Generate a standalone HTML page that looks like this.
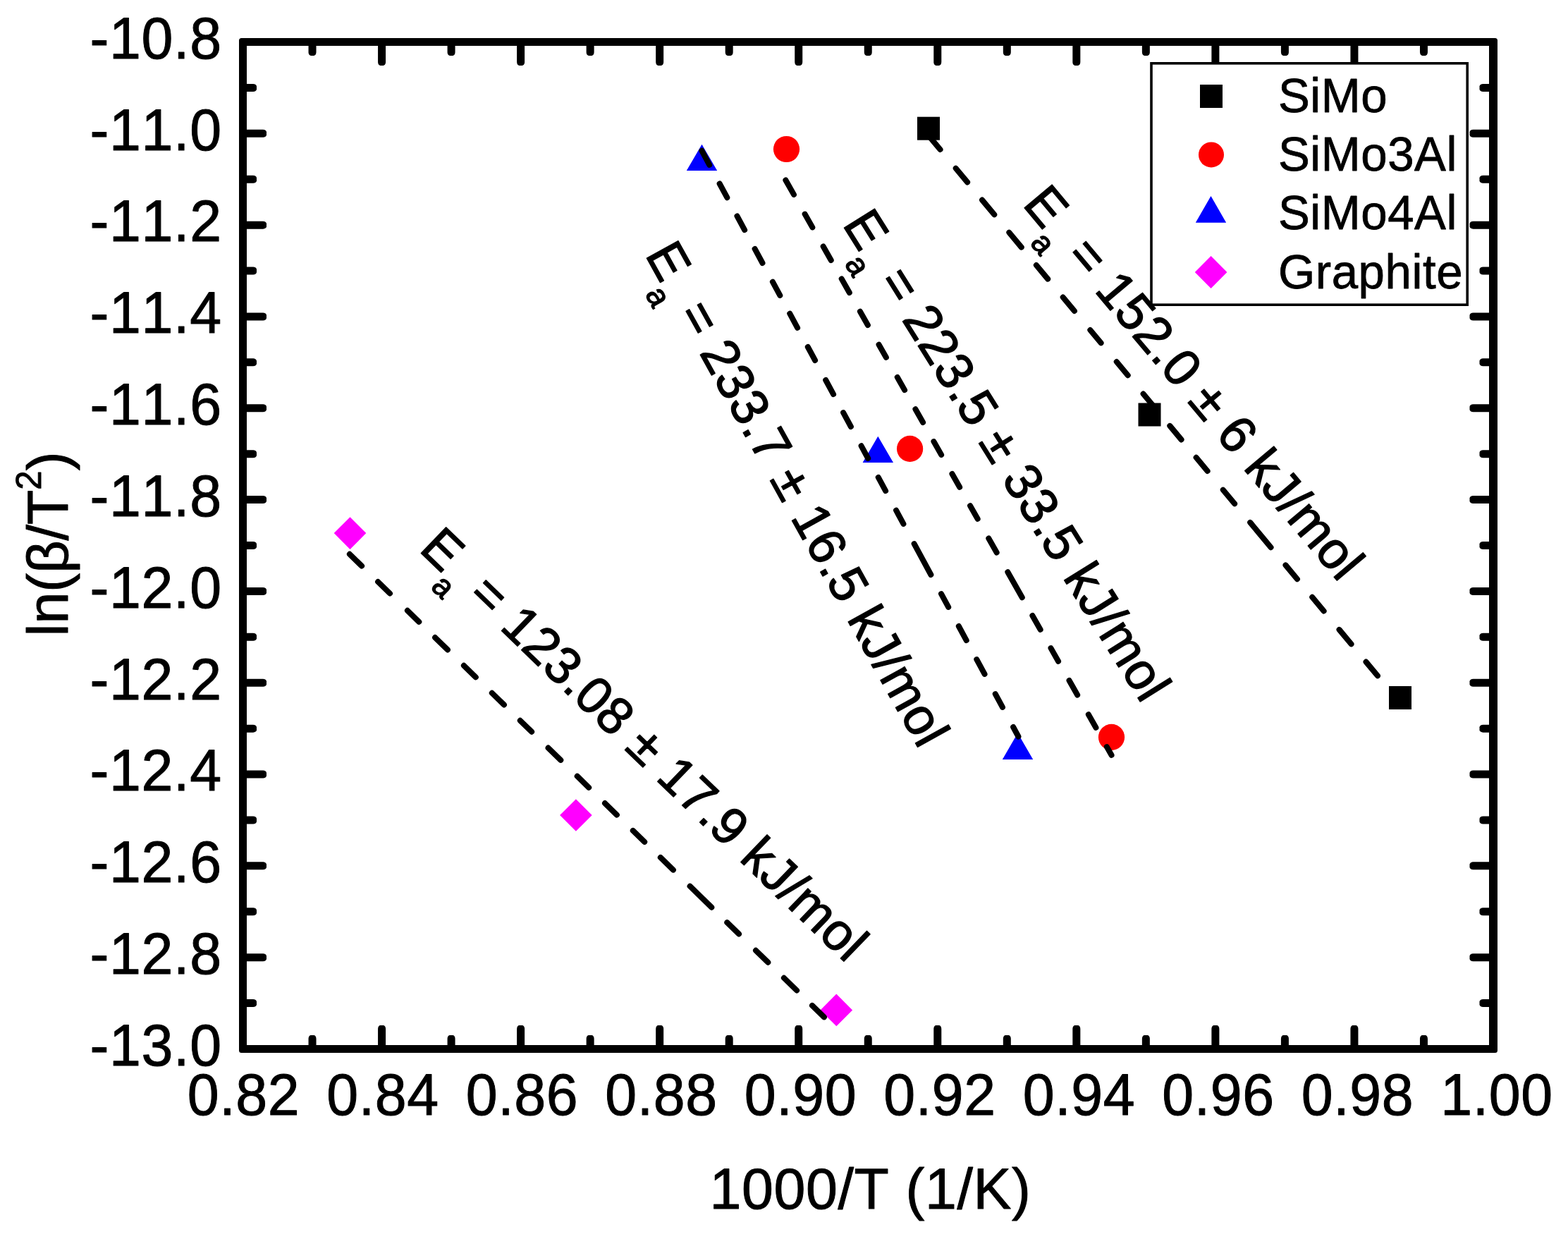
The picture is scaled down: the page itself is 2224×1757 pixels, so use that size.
<!DOCTYPE html>
<html lang="en"><head><meta charset="utf-8"><title>Kissinger plot: ln(β/T²) vs 1000/T</title>
<style>html,body{margin:0;padding:0;background:#fff;}body{width:2224px;height:1757px;overflow:hidden;}svg{display:block;}text{font-family:'Liberation Sans', sans-serif;fill:#000;font-kerning:none;font-variant-ligatures:none;white-space:pre;}</style>
</head><body>
<svg width="2224" height="1757" viewBox="0 0 2224 1757" role="img" aria-label="Kissinger plot of ln(β/T²) versus 1000/T">
<rect x="0" y="0" width="2224" height="1757" fill="#fff"/>
<g fill="#000">
<rect x="339.00" y="1454.00" width="11" height="33.50" rx="3.5" ry="5"/>
<rect x="339.00" y="59.50" width="11" height="33.50" rx="3.5" ry="5"/>
<rect x="437.53" y="1468.00" width="11" height="19.50" rx="3.5" ry="5"/>
<rect x="437.53" y="59.50" width="11" height="19.50" rx="3.5" ry="5"/>
<rect x="536.06" y="1454.00" width="11" height="33.50" rx="3.5" ry="5"/>
<rect x="536.06" y="59.50" width="11" height="33.50" rx="3.5" ry="5"/>
<rect x="634.58" y="1468.00" width="11" height="19.50" rx="3.5" ry="5"/>
<rect x="634.58" y="59.50" width="11" height="19.50" rx="3.5" ry="5"/>
<rect x="733.11" y="1454.00" width="11" height="33.50" rx="3.5" ry="5"/>
<rect x="733.11" y="59.50" width="11" height="33.50" rx="3.5" ry="5"/>
<rect x="831.64" y="1468.00" width="11" height="19.50" rx="3.5" ry="5"/>
<rect x="831.64" y="59.50" width="11" height="19.50" rx="3.5" ry="5"/>
<rect x="930.17" y="1454.00" width="11" height="33.50" rx="3.5" ry="5"/>
<rect x="930.17" y="59.50" width="11" height="33.50" rx="3.5" ry="5"/>
<rect x="1028.69" y="1468.00" width="11" height="19.50" rx="3.5" ry="5"/>
<rect x="1028.69" y="59.50" width="11" height="19.50" rx="3.5" ry="5"/>
<rect x="1127.22" y="1454.00" width="11" height="33.50" rx="3.5" ry="5"/>
<rect x="1127.22" y="59.50" width="11" height="33.50" rx="3.5" ry="5"/>
<rect x="1225.75" y="1468.00" width="11" height="19.50" rx="3.5" ry="5"/>
<rect x="1225.75" y="59.50" width="11" height="19.50" rx="3.5" ry="5"/>
<rect x="1324.28" y="1454.00" width="11" height="33.50" rx="3.5" ry="5"/>
<rect x="1324.28" y="59.50" width="11" height="33.50" rx="3.5" ry="5"/>
<rect x="1422.81" y="1468.00" width="11" height="19.50" rx="3.5" ry="5"/>
<rect x="1422.81" y="59.50" width="11" height="19.50" rx="3.5" ry="5"/>
<rect x="1521.33" y="1454.00" width="11" height="33.50" rx="3.5" ry="5"/>
<rect x="1521.33" y="59.50" width="11" height="33.50" rx="3.5" ry="5"/>
<rect x="1619.86" y="1468.00" width="11" height="19.50" rx="3.5" ry="5"/>
<rect x="1619.86" y="59.50" width="11" height="19.50" rx="3.5" ry="5"/>
<rect x="1718.39" y="1454.00" width="11" height="33.50" rx="3.5" ry="5"/>
<rect x="1718.39" y="59.50" width="11" height="33.50" rx="3.5" ry="5"/>
<rect x="1816.92" y="1468.00" width="11" height="19.50" rx="3.5" ry="5"/>
<rect x="1816.92" y="59.50" width="11" height="19.50" rx="3.5" ry="5"/>
<rect x="1915.44" y="1454.00" width="11" height="33.50" rx="3.5" ry="5"/>
<rect x="1915.44" y="59.50" width="11" height="33.50" rx="3.5" ry="5"/>
<rect x="2013.97" y="1468.00" width="11" height="19.50" rx="3.5" ry="5"/>
<rect x="2013.97" y="59.50" width="11" height="19.50" rx="3.5" ry="5"/>
<rect x="2112.50" y="1454.00" width="11" height="33.50" rx="3.5" ry="5"/>
<rect x="2112.50" y="59.50" width="11" height="33.50" rx="3.5" ry="5"/>
<rect x="344.50" y="54.00" width="33.50" height="11" rx="5" ry="3.5"/>
<rect x="2084.50" y="54.00" width="33.50" height="11" rx="5" ry="3.5"/>
<rect x="344.50" y="118.91" width="19.50" height="11" rx="5" ry="3.5"/>
<rect x="2098.50" y="118.91" width="19.50" height="11" rx="5" ry="3.5"/>
<rect x="344.50" y="183.82" width="33.50" height="11" rx="5" ry="3.5"/>
<rect x="2084.50" y="183.82" width="33.50" height="11" rx="5" ry="3.5"/>
<rect x="344.50" y="248.73" width="19.50" height="11" rx="5" ry="3.5"/>
<rect x="2098.50" y="248.73" width="19.50" height="11" rx="5" ry="3.5"/>
<rect x="344.50" y="313.64" width="33.50" height="11" rx="5" ry="3.5"/>
<rect x="2084.50" y="313.64" width="33.50" height="11" rx="5" ry="3.5"/>
<rect x="344.50" y="378.55" width="19.50" height="11" rx="5" ry="3.5"/>
<rect x="2098.50" y="378.55" width="19.50" height="11" rx="5" ry="3.5"/>
<rect x="344.50" y="443.45" width="33.50" height="11" rx="5" ry="3.5"/>
<rect x="2084.50" y="443.45" width="33.50" height="11" rx="5" ry="3.5"/>
<rect x="344.50" y="508.36" width="19.50" height="11" rx="5" ry="3.5"/>
<rect x="2098.50" y="508.36" width="19.50" height="11" rx="5" ry="3.5"/>
<rect x="344.50" y="573.27" width="33.50" height="11" rx="5" ry="3.5"/>
<rect x="2084.50" y="573.27" width="33.50" height="11" rx="5" ry="3.5"/>
<rect x="344.50" y="638.18" width="19.50" height="11" rx="5" ry="3.5"/>
<rect x="2098.50" y="638.18" width="19.50" height="11" rx="5" ry="3.5"/>
<rect x="344.50" y="703.09" width="33.50" height="11" rx="5" ry="3.5"/>
<rect x="2084.50" y="703.09" width="33.50" height="11" rx="5" ry="3.5"/>
<rect x="344.50" y="768.00" width="19.50" height="11" rx="5" ry="3.5"/>
<rect x="2098.50" y="768.00" width="19.50" height="11" rx="5" ry="3.5"/>
<rect x="344.50" y="832.91" width="33.50" height="11" rx="5" ry="3.5"/>
<rect x="2084.50" y="832.91" width="33.50" height="11" rx="5" ry="3.5"/>
<rect x="344.50" y="897.82" width="19.50" height="11" rx="5" ry="3.5"/>
<rect x="2098.50" y="897.82" width="19.50" height="11" rx="5" ry="3.5"/>
<rect x="344.50" y="962.73" width="33.50" height="11" rx="5" ry="3.5"/>
<rect x="2084.50" y="962.73" width="33.50" height="11" rx="5" ry="3.5"/>
<rect x="344.50" y="1027.64" width="19.50" height="11" rx="5" ry="3.5"/>
<rect x="2098.50" y="1027.64" width="19.50" height="11" rx="5" ry="3.5"/>
<rect x="344.50" y="1092.55" width="33.50" height="11" rx="5" ry="3.5"/>
<rect x="2084.50" y="1092.55" width="33.50" height="11" rx="5" ry="3.5"/>
<rect x="344.50" y="1157.45" width="19.50" height="11" rx="5" ry="3.5"/>
<rect x="2098.50" y="1157.45" width="19.50" height="11" rx="5" ry="3.5"/>
<rect x="344.50" y="1222.36" width="33.50" height="11" rx="5" ry="3.5"/>
<rect x="2084.50" y="1222.36" width="33.50" height="11" rx="5" ry="3.5"/>
<rect x="344.50" y="1287.27" width="19.50" height="11" rx="5" ry="3.5"/>
<rect x="2098.50" y="1287.27" width="19.50" height="11" rx="5" ry="3.5"/>
<rect x="344.50" y="1352.18" width="33.50" height="11" rx="5" ry="3.5"/>
<rect x="2084.50" y="1352.18" width="33.50" height="11" rx="5" ry="3.5"/>
<rect x="344.50" y="1417.09" width="19.50" height="11" rx="5" ry="3.5"/>
<rect x="2098.50" y="1417.09" width="19.50" height="11" rx="5" ry="3.5"/>
<rect x="344.50" y="1482.00" width="33.50" height="11" rx="5" ry="3.5"/>
<rect x="2084.50" y="1482.00" width="33.50" height="11" rx="5" ry="3.5"/>
</g>
<path fill="#000" fill-rule="evenodd" d="M342.50 54.00H2120.50Q2124.00 54.00 2124.00 57.50V1489.50Q2124.00 1493.00 2120.50 1493.00H342.50Q339.00 1493.00 339.00 1489.50V57.50Q339.00 54.00 342.50 54.00Z M350.00 65.00H2112.00V1482.00H350.00Z"/>
<text transform="translate(314.62 82.80) scale(1 1.045)" font-size="80.7" text-anchor="end" stroke="#000" stroke-width="1" stroke-linejoin="round" letter-spacing="0.62">-10.8</text>
<text transform="translate(314.62 212.62) scale(1 1.045)" font-size="80.7" text-anchor="end" stroke="#000" stroke-width="1" stroke-linejoin="round" letter-spacing="0.62">-11.0</text>
<text transform="translate(314.62 342.44) scale(1 1.045)" font-size="80.7" text-anchor="end" stroke="#000" stroke-width="1" stroke-linejoin="round" letter-spacing="0.62">-11.2</text>
<text transform="translate(314.62 472.25) scale(1 1.045)" font-size="80.7" text-anchor="end" stroke="#000" stroke-width="1" stroke-linejoin="round" letter-spacing="0.62">-11.4</text>
<text transform="translate(314.62 602.07) scale(1 1.045)" font-size="80.7" text-anchor="end" stroke="#000" stroke-width="1" stroke-linejoin="round" letter-spacing="0.62">-11.6</text>
<text transform="translate(314.62 731.89) scale(1 1.045)" font-size="80.7" text-anchor="end" stroke="#000" stroke-width="1" stroke-linejoin="round" letter-spacing="0.62">-11.8</text>
<text transform="translate(314.62 861.71) scale(1 1.045)" font-size="80.7" text-anchor="end" stroke="#000" stroke-width="1" stroke-linejoin="round" letter-spacing="0.62">-12.0</text>
<text transform="translate(314.62 991.53) scale(1 1.045)" font-size="80.7" text-anchor="end" stroke="#000" stroke-width="1" stroke-linejoin="round" letter-spacing="0.62">-12.2</text>
<text transform="translate(314.62 1121.35) scale(1 1.045)" font-size="80.7" text-anchor="end" stroke="#000" stroke-width="1" stroke-linejoin="round" letter-spacing="0.62">-12.4</text>
<text transform="translate(314.62 1251.16) scale(1 1.045)" font-size="80.7" text-anchor="end" stroke="#000" stroke-width="1" stroke-linejoin="round" letter-spacing="0.62">-12.6</text>
<text transform="translate(314.62 1380.98) scale(1 1.045)" font-size="80.7" text-anchor="end" stroke="#000" stroke-width="1" stroke-linejoin="round" letter-spacing="0.62">-12.8</text>
<text transform="translate(314.62 1510.80) scale(1 1.045)" font-size="80.7" text-anchor="end" stroke="#000" stroke-width="1" stroke-linejoin="round" letter-spacing="0.62">-13.0</text>
<text transform="translate(345.50 1581.00) scale(1 1.045)" font-size="80.7" text-anchor="middle" stroke="#000" stroke-width="1" stroke-linejoin="round" letter-spacing="0.62">0.82</text>
<text transform="translate(543.00 1581.00) scale(1 1.045)" font-size="80.7" text-anchor="middle" stroke="#000" stroke-width="1" stroke-linejoin="round" letter-spacing="0.62">0.84</text>
<text transform="translate(740.50 1581.00) scale(1 1.045)" font-size="80.7" text-anchor="middle" stroke="#000" stroke-width="1" stroke-linejoin="round" letter-spacing="0.62">0.86</text>
<text transform="translate(938.00 1581.00) scale(1 1.045)" font-size="80.7" text-anchor="middle" stroke="#000" stroke-width="1" stroke-linejoin="round" letter-spacing="0.62">0.88</text>
<text transform="translate(1135.50 1581.00) scale(1 1.045)" font-size="80.7" text-anchor="middle" stroke="#000" stroke-width="1" stroke-linejoin="round" letter-spacing="0.62">0.90</text>
<text transform="translate(1333.00 1581.00) scale(1 1.045)" font-size="80.7" text-anchor="middle" stroke="#000" stroke-width="1" stroke-linejoin="round" letter-spacing="0.62">0.92</text>
<text transform="translate(1530.50 1581.00) scale(1 1.045)" font-size="80.7" text-anchor="middle" stroke="#000" stroke-width="1" stroke-linejoin="round" letter-spacing="0.62">0.94</text>
<text transform="translate(1728.00 1581.00) scale(1 1.045)" font-size="80.7" text-anchor="middle" stroke="#000" stroke-width="1" stroke-linejoin="round" letter-spacing="0.62">0.96</text>
<text transform="translate(1925.50 1581.00) scale(1 1.045)" font-size="80.7" text-anchor="middle" stroke="#000" stroke-width="1" stroke-linejoin="round" letter-spacing="0.62">0.98</text>
<text transform="translate(2123.00 1581.00) scale(1 1.045)" font-size="80.7" text-anchor="middle" stroke="#000" stroke-width="1" stroke-linejoin="round" letter-spacing="0.62">1.00</text>
<text transform="translate(1234.50 1713.60) scale(1 1.02)" font-size="80.7" text-anchor="middle" stroke="#000" stroke-width="1" stroke-linejoin="round" letter-spacing="0.62">1000/T (1/K)</text>
<text transform="translate(96.10 771.50) rotate(-90)" font-size="80.7" text-anchor="middle" stroke="#000" stroke-width="1" stroke-linejoin="round">ln(β/T<tspan font-size="49.2" dy="-38.4">2</tspan><tspan dy="38.4">)</tspan></text>
<rect x="1633" y="89.8" width="448.2" height="342.4" fill="#fff" stroke="#000" stroke-width="3.6"/>
<rect x="1702" y="120" width="32" height="33" fill="#000"/>
<circle cx="1718" cy="219.4" r="18" fill="#f00"/>
<path d="M1717.5 278L1739.2 315.8H1695.8Z" fill="#00f"/>
<path d="M1717.6 363L1740.4 386L1717.6 409L1694.8 386Z" fill="#f0f"/>
<text transform="translate(1812.90 158.50) scale(1 1.015)" font-size="67.2" stroke="#000" stroke-width="0.8" stroke-linejoin="round" letter-spacing="0.56">SiMo</text>
<text transform="translate(1812.90 242.20) scale(1 1.015)" font-size="67.2" stroke="#000" stroke-width="0.8" stroke-linejoin="round" letter-spacing="0.56">SiMo3Al</text>
<text transform="translate(1812.90 325.00) scale(1 1.015)" font-size="67.2" stroke="#000" stroke-width="0.8" stroke-linejoin="round" letter-spacing="0.56">SiMo4Al</text>
<text transform="translate(1812.90 408.60) scale(1 1.015)" font-size="67.2" stroke="#000" stroke-width="0.8" stroke-linejoin="round" letter-spacing="0.56">Graphite</text>
<rect x="1301.00" y="165.70" width="32" height="33" fill="#000"/>
<rect x="1614.50" y="571.50" width="32" height="33" fill="#000"/>
<rect x="1970.00" y="973.00" width="32" height="33" fill="#000"/>
<circle cx="1115.50" cy="211.50" r="18.6" fill="#f00"/>
<circle cx="1290.60" cy="636.40" r="18.6" fill="#f00"/>
<circle cx="1576.50" cy="1045.40" r="18.6" fill="#f00"/>
<path d="M995.50 204.70L1017.20 242.00H973.80Z" fill="#00f"/>
<path d="M1245.30 618.80L1267.00 656.10H1223.60Z" fill="#00f"/>
<path d="M1443.50 1039.60L1465.20 1076.90H1421.80Z" fill="#00f"/>
<path d="M496.50 733.30L519.30 756.10L496.50 778.90L473.70 756.10Z" fill="#f0f"/>
<path d="M816.90 1133.20L839.70 1156.00L816.90 1178.80L794.10 1156.00Z" fill="#f0f"/>
<path d="M1186.30 1409.60L1209.10 1432.40L1186.30 1455.20L1163.50 1432.40Z" fill="#f0f"/>
<g stroke="#000" stroke-width="8" stroke-linecap="round" fill="none">
<path d="M1317.39 192.60L1333.52 212.00M1355.72 238.70L1372.09 258.40M1393.04 283.60L1410.25 304.30M1431.36 329.70L1448.74 350.60M1469.85 376.00L1486.15 395.60M1507.68 421.50L1523.89 441.00M1546.33 468.00L1561.55 486.30M1583.74 513.00L1599.70 532.20M1621.57 558.50L1637.78 578.00M1659.31 603.90L1675.52 623.40M1696.63 648.80L1712.59 668.00M1734.79 694.70L1751.08 714.30M1773.19 740.90L1802.54 776.20M1823.49 801.40L1839.95 821.20M1861.23 846.80L1877.61 866.50M1899.55 892.90L1916.51 913.30M1937.54 938.60L1953.92 958.30M1975.45 984.20L1985.59 996.40"/>
<path d="M1114.38 255.50L1125.95 275.90M1141.65 303.60L1152.30 322.40M1167.66 349.50L1178.72 369.00M1193.68 395.40L1204.79 415.00M1219.92 441.70L1230.86 461.00M1246.56 488.70L1256.82 506.80M1272.75 534.90L1283.06 553.10M1298.42 580.20L1309.08 599.00M1324.44 626.10L1335.10 644.90M1350.46 672.00L1361.11 690.80M1376.07 717.20L1386.62 735.80M1402.32 763.50L1413.65 783.50M1429.35 811.20L1449.76 847.20M1464.38 873.00L1475.61 892.80M1490.51 919.10L1501.05 937.70M1516.53 965.00L1528.15 985.50M1543.85 1013.20L1554.39 1031.80M1569.86 1059.10L1576.50 1070.80"/>
<path d="M995.37 213.70L1006.23 233.80M1020.67 260.50L1031.31 280.20M1045.47 306.40L1056.12 326.10M1070.61 352.90L1081.47 373.00M1095.90 399.70L1106.28 418.90M1120.23 444.70L1131.09 464.80M1145.79 492.00L1156.06 511.00M1171.19 539.00L1182.06 559.10M1196.11 585.10L1206.87 605.00M1221.62 632.30L1231.19 650.00M1245.73 676.90L1256.11 696.10M1271.03 723.70L1281.40 742.90M1296.64 771.10L1320.37 815.00M1335.02 842.10L1345.18 860.90M1359.83 888.00L1370.69 908.10M1385.29 935.10L1396.53 955.90M1411.77 984.10L1421.93 1002.90M1437.12 1031.00L1444.42 1044.50"/>
<path d="M495.90 785.79L513.10 802.57M536.10 825.01L553.00 841.49M577.90 865.79L594.30 881.79M617.10 904.03L634.90 921.40M657.90 943.83L674.80 960.32M697.80 982.76L714.90 999.44M737.80 1021.79L754.10 1037.69M777.60 1060.61L795.30 1077.88M818.70 1100.71L835.20 1116.81M858.00 1139.05L874.90 1155.54M897.80 1177.88L914.20 1193.88M936.80 1215.93L954.90 1233.59M978.60 1256.71L1009.30 1286.66M1031.30 1308.12L1048.00 1324.42M1072.00 1347.83L1089.30 1364.71M1111.90 1386.76L1130.10 1404.51M1152.00 1425.88L1168.90 1442.37"/>
</g>
<text transform="translate(1449.22 290.27) rotate(50) scale(1 1.02)" font-size="72.6" stroke="#000" stroke-width="1.4" stroke-linejoin="round" letter-spacing="0.63">E<tspan font-size="44.2" dy="26.4706">a</tspan><tspan dy="-26.4706"> = 152.0 ± 6 kJ/mol</tspan></text>
<text transform="translate(1194.22 318.04) rotate(58) scale(1 1.02)" font-size="72.6" stroke="#000" stroke-width="1.4" stroke-linejoin="round" letter-spacing="0.63">E<tspan font-size="44.2" dy="26.4706">a</tspan><tspan dy="-26.4706"> = 223.5 ± 33.5 kJ/mol</tspan></text>
<text transform="translate(914.45 361.10) rotate(61) scale(1 1.02)" font-size="72.6" stroke="#000" stroke-width="1.4" stroke-linejoin="round" letter-spacing="0.63">E<tspan font-size="44.2" dy="26.4706">a</tspan><tspan dy="-26.4706"> = 233.7 ± 16.5 kJ/mol</tspan></text>
<text transform="translate(593.12 780.35) rotate(44) scale(1 1.02)" font-size="72.6" stroke="#000" stroke-width="1.4" stroke-linejoin="round" letter-spacing="0.63">E<tspan font-size="44.2" dy="26.4706">a</tspan><tspan dy="-26.4706"> = 123.08 ± 17.9 kJ/mol</tspan></text>
</svg>
</body></html>
